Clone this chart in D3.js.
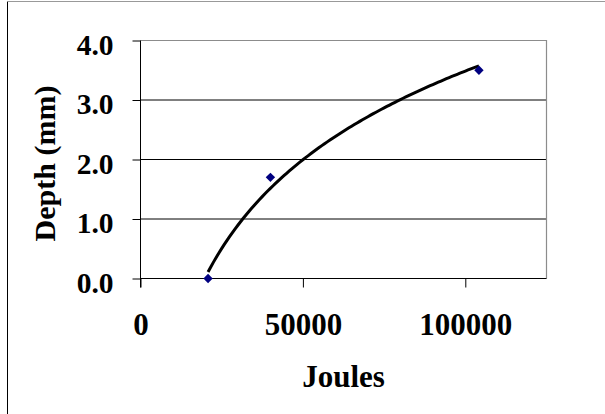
<!DOCTYPE html>
<html>
<head>
<meta charset="utf-8">
<script src="https://cdn.jsdelivr.net/npm/d3@7"></script>
<style>
  html, body { margin: 0; padding: 0; background: #fff; }
  svg { display: block; }
  text { font-family: "Liberation Serif", "Times New Roman", serif; font-weight: bold; fill: #000; }
</style>
</head>
<body>
<svg id="chart" width="605" height="414"></svg>
<script>
// ---- data ----
const joules = [20800, 40000, 104200];
const depthMm = [0.0, 1.7, 3.5];
const xTicks = [0, 50000, 100000];
const yTicks = [0.0, 1.0, 2.0, 3.0, 4.0];
const xTitle = "Joules";
const yTitle = "Depth (mm)";

const svg = d3.select("#chart");
const W = 605, H = 414;

// outer chart border (left and top visible)
svg.append("line").attr("x1", 7.5).attr("x2", 7.5).attr("y1", 1.5).attr("y2", H)
  .attr("stroke", "#000").attr("stroke-width", 1);
svg.append("line").attr("x1", 7.5).attr("x2", W).attr("y1", 1.5).attr("y2", 1.5)
  .attr("stroke", "#999").attr("stroke-width", 1);

const plot = { left: 140.5, right: 546.5, top: 40.5, bottom: 278.5 };

const x = d3.scaleLinear().domain([0, 125000]).range([plot.left, plot.right]);
const y = d3.scaleLinear().domain([0, 4]).range([plot.bottom, plot.top]);

// gridlines
svg.append("g").selectAll("line").data(yTicks.filter(v => v > 0 && v < 4)).join("line")
  .attr("x1", plot.left).attr("x2", plot.right)
  .attr("y1", d => y(d)).attr("y2", d => y(d))
  .attr("stroke", "#000").attr("stroke-width", 1);

// plot area border top & right (gray)
svg.append("path")
  .attr("d", `M${plot.left},${plot.top}H${plot.right}V${plot.bottom}`)
  .attr("fill", "none").attr("stroke", "#8c8c8c").attr("stroke-width", 1.2);

// x axis
const xAxis = d3.axisBottom(x).tickValues(xTicks).tickSize(9).tickFormat(d3.format("d"));
const gx = svg.append("g").attr("transform", `translate(0,${plot.bottom})`).call(xAxis);
gx.select(".domain").attr("stroke", "#000").attr("d", `M${plot.left},0H${plot.right}`);
gx.selectAll(".tick line").attr("stroke", "#000");
gx.selectAll(".tick text").attr("font-size", 31).attr("font-family", "Liberation Serif")
  .attr("font-weight", "bold").attr("fill", "#000").attr("dy", null).attr("y", 56);

// y axis
const yAxis = d3.axisLeft(y).tickValues(yTicks).tickSize(8).tickFormat(d3.format(".1f"));
const gy = svg.append("g").attr("transform", `translate(${plot.left},0)`).call(yAxis);
gy.select(".domain").attr("stroke", "#000").attr("d", `M0,${plot.top}V${plot.bottom + 9}`);
gy.selectAll(".tick line").attr("stroke", "#000");
gy.selectAll(".tick text").attr("font-size", 29.5).attr("font-family", "Liberation Serif")
  .attr("font-weight", "bold").attr("fill", "#000").attr("x", -27).attr("dy", "0.46em");

// axis titles
svg.append("text").attr("x", (plot.left + plot.right) / 2).attr("y", 387)
  .attr("text-anchor", "middle").attr("font-size", 31).text(xTitle);
svg.append("text").attr("transform", `translate(55,${(plot.top + plot.bottom) / 2 + 4}) rotate(-90)`)
  .attr("text-anchor", "middle").attr("font-size", 30).text(yTitle);

// logarithmic trendline fitted to the data (y = a ln x + b)
const lx = joules.map(Math.log);
const mx = d3.mean(lx), my = d3.mean(depthMm);
const a = d3.sum(lx.map((v, i) => (v - mx) * (depthMm[i] - my))) / d3.sum(lx.map(v => (v - mx) * (v - mx)));
const b = my - a * mx;
const [xmin, xmax] = d3.extent(joules);
const trend = d3.range(0, 101).map(i => {
  const xv = xmin + (xmax - xmin) * i / 100;
  return [xv, a * Math.log(xv) + b];
});
svg.append("path").datum(trend)
  .attr("d", d3.line().x(d => x(d[0])).y(d => y(d[1])))
  .attr("fill", "none").attr("stroke", "#000").attr("stroke-width", 3);

// markers
svg.append("g").selectAll("path").data(joules.map((j, i) => [j, depthMm[i]])).join("path")
  .attr("transform", d => `translate(${x(d[0])},${y(d[1])}) rotate(45)`)
  .attr("d", d3.symbol(d3.symbolSquare, 44)())
  .attr("fill", "#000080");
</script>
</body>
</html>
